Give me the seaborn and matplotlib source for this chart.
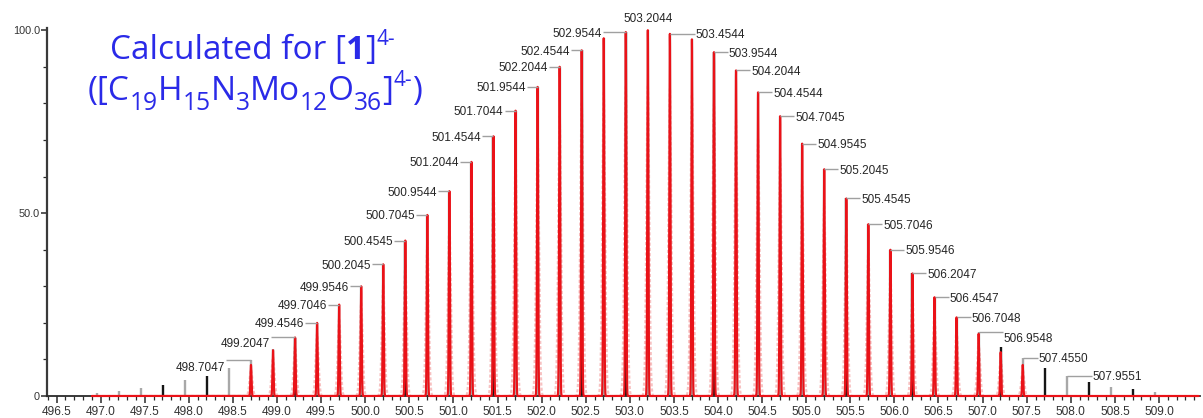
import numpy as np
import pandas as pd
import matplotlib
matplotlib.use("Agg")
import matplotlib.pyplot as plt
import seaborn as sns
from matplotlib.ticker import MultipleLocator, FixedLocator, FixedFormatter
from matplotlib.transforms import IdentityTransform

# ---------------------------------------------------------------------------
# Isotope pattern of [1]4-  (z = 4, peaks every 0.25 m/z)
# ---------------------------------------------------------------------------
stick_mz = [
    496.9547, 497.2047, 497.4547, 497.7047, 497.9547, 498.2047, 498.4547,
    498.7047, 498.9547, 499.2047, 499.4546, 499.7046, 499.9546, 500.2045,
    500.4545, 500.7045, 500.9544, 501.2044, 501.4544, 501.7044, 501.9544,
    502.2044, 502.4544, 502.7044, 502.9544, 503.2044, 503.4544, 503.7044,
    503.9544, 504.2044, 504.4544, 504.7045, 504.9545, 505.2045, 505.4545,
    505.7046, 505.9546, 506.2047, 506.4547, 506.7048, 506.9548, 507.2049,
    507.4550, 507.7050, 507.9551, 508.2051, 508.4552, 508.7052, 508.9553,
]
stick_int = [
    0.8, 1.4, 2.2, 3.0, 4.4, 5.5, 7.6,
    9.8, 12.8, 15.8, 20.0, 25.0, 30.0, 36.0,
    42.5, 49.5, 56.0, 64.0, 71.0, 78.0, 84.5,
    90.0, 94.5, 97.8, 99.5, 100.0, 99.0, 97.5,
    94.0, 89.0, 83.0, 76.5, 69.0, 62.0, 54.0,
    47.0, 40.0, 33.5, 27.0, 21.5, 17.6, 13.4,
    10.4, 7.6, 5.5, 3.8, 2.5, 1.9, 1.2,
]
# sticks drawn in the darker trace
dark_mz = [497.7047, 498.2047, 499.2047, 500.4545, 501.4544, 502.4544,
           502.9544, 503.9544, 505.4545, 506.2047, 507.2049, 507.7050,
           508.2051, 508.7052]

# calculated profile peaks
red_mz = stick_mz[7:43]
red_int = [
    8.5, 12.5, 16.0, 20.0, 25.0, 30.0, 36.0, 42.5, 49.5, 56.0,
    64.0, 71.0, 78.0, 84.5, 90.0, 94.5, 97.8, 99.5, 100.0, 99.0,
    97.5, 94.0, 89.0, 83.0, 76.5, 69.0, 62.0, 54.0, 47.0, 40.0,
    33.5, 27.0, 21.5, 17.0, 12.0, 8.5,
]

# annotated peaks
label_mz = [
    498.7047, 499.2047, 499.4546, 499.7046, 499.9546, 500.2045, 500.4545,
    500.7045, 500.9544, 501.2044, 501.4544, 501.7044, 501.9544, 502.2044,
    502.4544, 502.9544, 503.2044, 503.4544, 503.9544, 504.2044, 504.4544,
    504.7045, 504.9545, 505.2045, 505.4545, 505.7046, 505.9546, 506.2047,
    506.4547, 506.7048, 506.9548, 507.4550, 507.9551,
]

x_major = [496.5 + 0.5 * i for i in range(26)]
y_ticks = [0, 50, 100]
y_ticklabels = ["0", "50.0", "100.0"]

# ---------------------------------------------------------------------------
sns.set_style("ticks")
plt.rcParams["font.family"] = ["Liberation Sans", "DejaVu Sans"]

W, H = 1203, 418
fig = plt.figure(figsize=(W / 100, H / 100), dpi=100)
ax = fig.add_axes([47 / W, 22 / H, (1200 - 47) / W, (396 - 28) / H])
ax.set_xlim(496.392, 509.465)
ax.set_ylim(0, 100.6)

# profile traces built from each calculated peak
grid = np.arange(496.90, 509.45, 0.0004)
core = np.zeros_like(grid)
halo = np.zeros_like(grid)
for m, h in zip(red_mz, red_int):
    core += h * np.exp(-0.5 * ((grid - m) / 0.006) ** 2)
    halo += 0.85 * h * np.exp(-0.5 * ((grid - m) / 0.017) ** 2)
prof = pd.DataFrame({"mz": grid, "core": core, "halo": halo})

sns.lineplot(data=prof, x="mz", y="halo", color="#f4a0a0", lw=1.5, alpha=0.65,
             linestyle=(0, (1.5, 1)), estimator=None, sort=False, ax=ax, zorder=1)

dark_set = {round(v, 4) for v in dark_mz}
stick_colors = ["#151515" if round(m, 4) in dark_set else "#a8a8a8" for m in stick_mz]
ax.vlines(stick_mz, 0, stick_int, colors=stick_colors, lw=1.7, zorder=2)

sns.lineplot(data=prof, x="mz", y="core", color="#ea1218", lw=1.55,
             estimator=None, sort=False, ax=ax, zorder=3)
for ln in ax.lines:
    ln.set_clip_on(False)

# axes styling
for side in ("top", "right"):
    ax.spines[side].set_visible(False)
ax.spines["left"].set_color("#3a3a3a")
ax.spines["bottom"].set_color("#2a2a2a")
ax.spines["left"].set_linewidth(1.6)
ax.spines["bottom"].set_linewidth(1.3)
ax.set_xlabel("")
ax.set_ylabel("")

ax.xaxis.set_major_locator(FixedLocator(x_major))
ax.xaxis.set_major_formatter(FixedFormatter([f"{v:.1f}" for v in x_major]))
ax.xaxis.set_minor_locator(MultipleLocator(0.1))
ax.yaxis.set_major_locator(FixedLocator(y_ticks))
ax.yaxis.set_major_formatter(FixedFormatter(y_ticklabels))
ax.yaxis.set_minor_locator(MultipleLocator(10))
ax.tick_params(axis="x", which="major", length=5, width=1.1, color="#2a2a2a",
               labelsize=8.6, labelcolor="#333333", pad=2)
ax.tick_params(axis="x", which="minor", length=3, width=0.9, color="#2a2a2a")
ax.tick_params(axis="y", which="major", length=4, width=1.1, color="#2a2a2a",
               labelsize=7.8, labelcolor="#333333", pad=1)
ax.tick_params(axis="y", which="minor", length=3, width=0.9, color="#2a2a2a")

# ---------------------------------------------------------------------------
# peak annotations with leader lines
# ---------------------------------------------------------------------------
fig.canvas.draw()
px_per_mz = ax.transData.transform((1, 0))[0] - ax.transData.transform((0, 0))[0]

apex = {}
for m, h in zip(stick_mz, stick_int):
    apex[round(m, 4)] = h
for m, h in zip(red_mz, red_int):
    apex[round(m, 4)] = max(apex.get(round(m, 4), 0), h)

centre_mz = 503.2044
gap_px = {498.7047: 26, 499.2047: 25, 499.4546: 13, 502.9544: 24,
          503.4544: 26, 506.9548: 25, 507.4550: 16, 507.9551: 26}
drop_px = {498.7047: 8, 499.2047: 7, 506.9548: 7}

for m in label_mz:
    h = apex[round(m, 4)]
    txt = f"{m:.4f}"
    if abs(m - centre_mz) < 1e-6:
        ax.annotate(txt, xy=(m, h), xytext=(0, 11), textcoords="offset pixels",
                    ha="center", va="center", fontsize=8.5, color="#262626")
        continue
    left = m < centre_mz
    g = gap_px.get(m, 12 if left else 15)
    d = drop_px.get(m, 1.5)
    sign = -1 if left else 1
    ax.annotate(txt, xy=(m, h), xytext=(sign * g, -d), textcoords="offset pixels",
                ha="right" if left else "left", va="center",
                fontsize=8.5, color="#262626", annotation_clip=False)
    x_end = m + sign * (g - 1) / px_per_mz
    ax.plot([m, x_end], [h, h], color="#a0a0a0", lw=1.0, zorder=4,
            solid_capstyle="butt", clip_on=False)

# ---------------------------------------------------------------------------
# title block (rich text laid out run by run)
# ---------------------------------------------------------------------------
renderer = fig.canvas.get_renderer()
BLUE = "#2a2ae8"
TITLE_FONT = ["Open Sans", "DejaVu Sans"]


def draw_runs(runs, x0, y0, size):
    x = x0
    for s, kind in runs:
        fs, dy, weight = size, 0.0, "normal"
        if kind == "sup":
            fs, dy = size * 0.62, size * 0.42
        elif kind == "sub":
            fs, dy = size * 0.74, -size * 0.30
        elif kind == "bold":
            weight = "bold"
        t = fig.text(x, y0 + dy * 100 / 72, s, transform=IdentityTransform(),
                     fontsize=fs, color=BLUE, fontweight=weight,
                     family=TITLE_FONT, ha="left", va="baseline")
        x += t.get_window_extent(renderer).width


TITLE = 24
draw_runs([("Calculated for [", "n"), ("1", "bold"), ("]", "n"), ("4-", "sup")],
          110, H - 59, TITLE)
draw_runs([("([C", "n"), ("19", "sub"), ("H", "n"), ("15", "sub"), ("N", "n"),
           ("3", "sub"), ("Mo", "n"), ("12", "sub"), ("O", "n"), ("36", "sub"),
           ("]", "n"), ("4-", "sup"), (")", "n")],
          88, H - 100, TITLE)

fig.savefig("out.png", dpi=100)
